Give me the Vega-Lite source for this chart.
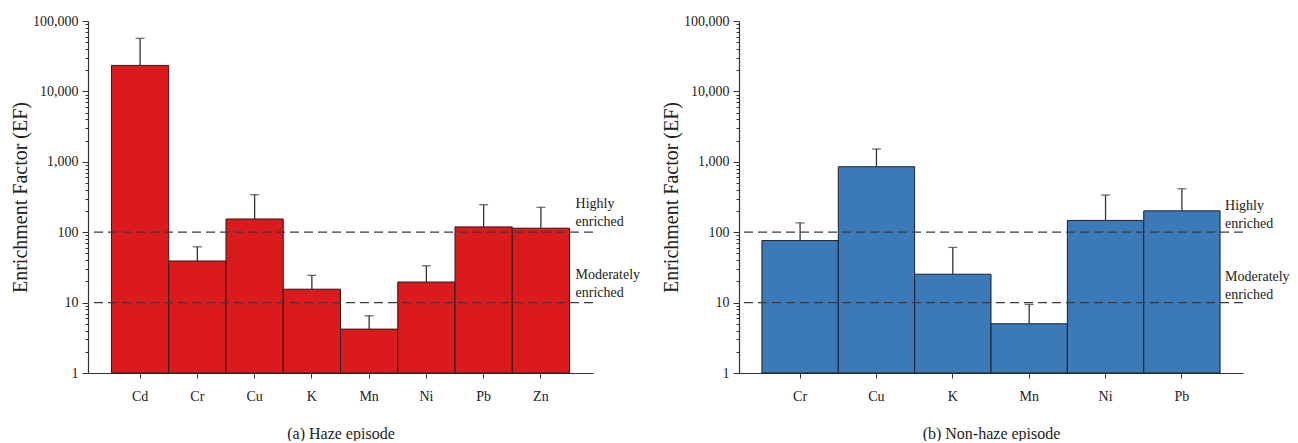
{
  "$schema": "https://vega.github.io/schema/vega-lite/v6.json",
  "padding": {"top": 14, "left": 10, "right": 0, "bottom": 0},
  "background": "white",
  "config": {
    "font": "Liberation Serif",
    "view": {"stroke": null},
    "axis": {"grid": false, "domainColor": "#333", "tickColor": "#333", "labelColor": "#222", "titleColor": "#222", "labelFont": "Liberation Serif", "titleFont": "Liberation Serif", "titleFontWeight": "normal", "labelFontSize": 14, "domainWidth": 1.2, "tickWidth": 1}
  },
  "datasets": {
    "haze": [
      {"element": "Cd", "ef": 23400, "err": 56800},
      {"element": "Cr", "ef": 39, "err": 62},
      {"element": "Cu", "ef": 154, "err": 341},
      {"element": "K", "ef": 15.5, "err": 24.4},
      {"element": "Mn", "ef": 4.2, "err": 6.5},
      {"element": "Ni", "ef": 19.6, "err": 33.4},
      {"element": "Pb", "ef": 119, "err": 246},
      {"element": "Zn", "ef": 114, "err": 226}
    ],
    "nonhaze": [
      {"element": "Cr", "ef": 76, "err": 136},
      {"element": "Cu", "ef": 851, "err": 1520},
      {"element": "K", "ef": 25.3, "err": 60.8},
      {"element": "Mn", "ef": 5.0, "err": 9.4},
      {"element": "Ni", "ef": 147, "err": 337},
      {"element": "Pb", "ef": 201, "err": 414}
    ],
    "levels": [
      {"level": 100, "label": "Highly\nenriched"},
      {"level": 10, "label": "Moderately\nenriched"}
    ]
  },
  "hconcat": [
    {
      "width": 505,
      "height": 352,
      "layer": [
        {
          "data": {"name": "haze"},
          "mark": {"type": "bar", "color": "#DA1A1C", "stroke": "#2a1a1a", "strokeWidth": 1},
          "encoding": {
            "x": {"field": "element", "type": "nominal", "sort": null,
                  "scale": {"paddingInner": 0, "paddingOuter": 0.41},
                  "axis": {"title": "(a) Haze episode", "titleFontSize": 16, "titlePadding": 22, "labelAngle": 0, "tickSize": 5, "labelPadding": 11}},
            "y": {"field": "ef", "type": "quantitative",
                  "scale": {"type": "log", "domain": [1, 100000], "nice": false},
                  "axis": {"title": "Enrichment Factor (EF)", "titleFontSize": 20, "titlePadding": 2,
                           "values": [1,2,3,4,5,6,7,8,9,10,20,30,40,50,60,70,80,90,100,200,300,400,500,600,700,800,900,1000,2000,3000,4000,5000,6000,7000,8000,9000,10000,20000,30000,40000,50000,60000,70000,80000,90000,100000],
                           "labelExpr": "indexof([1,10,100,1000,10000,100000], datum.value) >= 0 ? format(datum.value, ',') : ''",
                           "tickSize": {"condition": {"test": "indexof([1,10,100,1000,10000,100000], datum.value) >= 0", "value": 6}, "value": 3},
                           "labelPadding": 4}},
            "y2": {"datum": 1}
          }
        },
        {
          "data": {"name": "haze"},
          "mark": {"type": "rule", "color": "#333", "strokeWidth": 1.3},
          "encoding": {
            "x": {"field": "element", "type": "nominal", "sort": null},
            "y": {"field": "ef", "type": "quantitative"},
            "y2": {"field": "err"}
          }
        },
        {
          "data": {"name": "haze"},
          "mark": {"type": "tick", "color": "#333", "size": 9, "thickness": 1.3},
          "encoding": {
            "x": {"field": "element", "type": "nominal", "sort": null},
            "y": {"field": "err", "type": "quantitative"}
          }
        },
        {
          "data": {"name": "levels"},
          "mark": {"type": "rule", "color": "#3a3a3a", "strokeWidth": 1.3, "strokeDash": [9, 5]},
          "encoding": {"y": {"field": "level", "type": "quantitative"}}
        },
        {
          "data": {"name": "levels"},
          "mark": {"type": "text", "align": "left", "baseline": "bottom", "dx": 6, "dy": -21, "fontSize": 14, "lineHeight": 18, "lineBreak": "\n", "color": "#222"},
          "encoding": {
            "x": {"datum": "Zn", "bandPosition": 1},
            "y": {"field": "level", "type": "quantitative"},
            "text": {"field": "label"}
          }
        }
      ]
    },
    {
      "width": 504,
      "height": 352,
      "layer": [
        {
          "data": {"name": "nonhaze"},
          "mark": {"type": "bar", "color": "#3B79B7", "stroke": "#1a2030", "strokeWidth": 1},
          "encoding": {
            "x": {"field": "element", "type": "nominal", "sort": null,
                  "scale": {"paddingInner": 0, "paddingOuter": 0.30},
                  "axis": {"title": "(b) Non-haze episode", "titleFontSize": 16, "titlePadding": 22, "labelAngle": 0, "tickSize": 5, "labelPadding": 11}},
            "y": {"field": "ef", "type": "quantitative",
                  "scale": {"type": "log", "domain": [1, 100000], "nice": false},
                  "axis": {"title": "Enrichment Factor (EF)", "titleFontSize": 20, "titlePadding": 2,
                           "values": [1,2,3,4,5,6,7,8,9,10,20,30,40,50,60,70,80,90,100,200,300,400,500,600,700,800,900,1000,2000,3000,4000,5000,6000,7000,8000,9000,10000,20000,30000,40000,50000,60000,70000,80000,90000,100000],
                           "labelExpr": "indexof([1,10,100,1000,10000,100000], datum.value) >= 0 ? format(datum.value, ',') : ''",
                           "tickSize": {"condition": {"test": "indexof([1,10,100,1000,10000,100000], datum.value) >= 0", "value": 6}, "value": 3},
                           "labelPadding": 4}},
            "y2": {"datum": 1}
          }
        },
        {
          "data": {"name": "nonhaze"},
          "mark": {"type": "rule", "color": "#333", "strokeWidth": 1.3},
          "encoding": {
            "x": {"field": "element", "type": "nominal", "sort": null},
            "y": {"field": "ef", "type": "quantitative"},
            "y2": {"field": "err"}
          }
        },
        {
          "data": {"name": "nonhaze"},
          "mark": {"type": "tick", "color": "#333", "size": 9, "thickness": 1.3},
          "encoding": {
            "x": {"field": "element", "type": "nominal", "sort": null},
            "y": {"field": "err", "type": "quantitative"}
          }
        },
        {
          "data": {"name": "levels"},
          "mark": {"type": "rule", "color": "#3a3a3a", "strokeWidth": 1.3, "strokeDash": [9, 5]},
          "encoding": {"y": {"field": "level", "type": "quantitative"}}
        },
        {
          "data": {"name": "levels"},
          "mark": {"type": "text", "align": "left", "baseline": "bottom", "dx": 5, "dy": -19, "fontSize": 14, "lineHeight": 18, "lineBreak": "\n", "color": "#222"},
          "encoding": {
            "x": {"datum": "Pb", "bandPosition": 1},
            "y": {"field": "level", "type": "quantitative"},
            "text": {"field": "label"}
          }
        }
      ]
    }
  ],
  "bounds": "flush",
  "spacing": 146
}
